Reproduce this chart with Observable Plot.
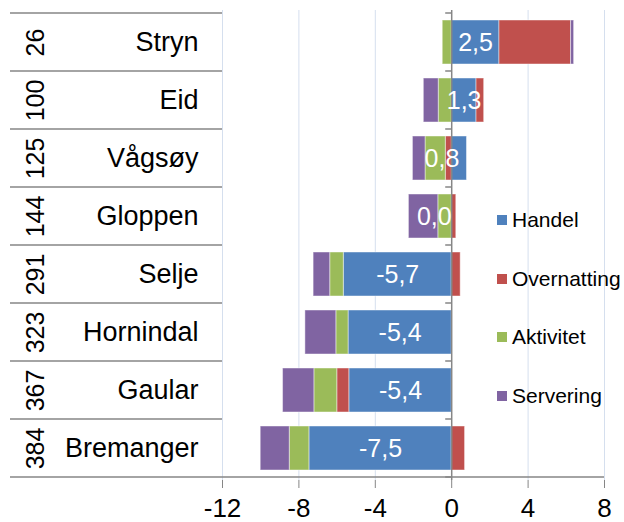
<!DOCTYPE html>
<html>
<head>
<meta charset="utf-8">
<script src="https://cdn.jsdelivr.net/npm/d3@7"></script>
<script src="https://cdn.jsdelivr.net/npm/@observablehq/plot@0.6"></script>
<style>
  body { margin: 0; background: #fff; }
  #wrap { position: relative; width: 624px; height: 522px; font-family: "Liberation Sans", Arial, sans-serif; }
  #legend { position: absolute; left: 497px; top: 191px; }
  .item { height: 58.6px; display: flex; align-items: center; font-size: 21px; color: #000; }
  .sw { width: 10px; height: 10px; margin-right: 5px; flex: none; }
</style>
</head>
<body>
<div id="wrap"><div id="legend"></div></div>
<script>
const names = ["Stryn", "Eid", "Vågsøy", "Gloppen", "Selje", "Hornindal", "Gaular", "Bremanger"];
const ranks = [26, 100, 125, 144, 291, 323, 367, 384];
const seriesNames = ["Handel", "Overnatting", "Aktivitet", "Servering"];
const seriesColors = ["#4F81BD", "#C0504D", "#9BBB59", "#8064A2"];
const handel = [2.5, 1.3, 0.8, 0.0, -5.65, -5.4, -5.36, -7.45];
const overnatting = [3.75, 0.4, -0.31, 0.24, 0.47, 0.0, -0.63, 0.7];
const aktivitet = [-0.47, -0.68, -1.06, -0.7, -0.71, -0.64, -1.2, -1.03];
const servering = [0.16, -0.78, -0.66, -1.54, -0.87, -1.62, -1.64, -1.52];
const xTicks = [-12, -8, -4, 0, 4, 8];

const seriesValues = [handel, overnatting, aktivitet, servering];
const data = seriesNames.flatMap((s, i) => names.map((n, j) => ({name: n, series: s, value: seriesValues[i][j]})));
const handelData = names.map((n, j) => ({name: n, value: handel[j]}));
const rankData = names.map((n, j) => ({name: n, rank: ranks[j]}));
const fmt = v => v.toFixed(1).replace(".", ",");
const axisGray = "#868686";

const chart = Plot.plot({
  width: 624,
  height: 522,
  marginTop: 10,
  marginBottom: 42,
  marginLeft: 222,
  marginRight: 20,
  style: {fontFamily: "'Liberation Sans', Arial, sans-serif", fontSize: "26px", background: "white", color: "black"},
  x: {domain: [-12, 8], label: null},
  y: {domain: names, padding: 0, label: null},
  color: {domain: seriesNames, range: seriesColors},
  marks: [
    Plot.gridX(xTicks.filter(d => d !== 0), {stroke: "#d5dfee", strokeOpacity: 1, strokeWidth: 1}),
    Plot.barX(data.filter(d => d.value !== 0), {
      x: "value", y: "name", fill: "series", insetTop: 7, insetBottom: 7,
      stroke: "white", strokeOpacity: 0.45, strokeWidth: 1
    }),
    Plot.ruleX([0], {stroke: axisGray, strokeWidth: 1.5}),
    Plot.text(handelData.filter(d => Math.abs(d.value) >= 1), {
      x: d => d.value / 2, y: "name", text: d => fmt(d.value), fill: "white", fontSize: 25, textAnchor: "middle"
    }),
    Plot.text(handelData.filter(d => Math.abs(d.value) < 1), {
      x: d => d.value / 2, y: "name", text: d => fmt(d.value), fill: "white", fontSize: 25, textAnchor: "end"
    }),
    Plot.axisX({ticks: xTicks, tickFormat: d => String(d), tickSize: 8, tickPadding: 10, stroke: axisGray, fill: "black", fontSize: 26, label: null}),
    Plot.axisY({tickSize: 0, tickPadding: 24, fontSize: 27, fill: "black", label: null}),
    Plot.text(rankData, {y: "name", text: d => String(d.rank), frameAnchor: "left", textAnchor: "middle", dx: -187, rotate: -90, fontSize: 25, fill: "black"})
  ]
});

document.getElementById("wrap").prepend(chart);

// table lines and category-axis ticks, placed through Plot's own scales
const ys = chart.scale("y");
const xs = chart.scale("x");
const bw = ys.bandwidth;
const bounds = names.map(n => ys.apply(n)).concat([ys.apply(names[names.length - 1]) + bw]);
const x0 = xs.apply(0);
const xLeft = xs.apply(-12);
const xRight = xs.apply(8);
const svg = d3.select(chart);
const g = svg.append("g").attr("stroke", axisGray).attr("stroke-width", 1.5);
bounds.forEach((b, i) => {
  const last = i === bounds.length - 1;
  g.append("line").attr("x1", 10).attr("x2", last ? xRight : xLeft).attr("y1", b).attr("y2", b);
  g.append("line").attr("x1", x0 - 6).attr("x2", x0).attr("y1", b).attr("y2", b);
});

// legend
const legend = d3.select("#legend");
seriesNames.forEach((s, i) => {
  const it = legend.append("div").attr("class", "item");
  it.append("div").attr("class", "sw").style("background", seriesColors[i]);
  it.append("span").text(s);
});
</script>
</body>
</html>
